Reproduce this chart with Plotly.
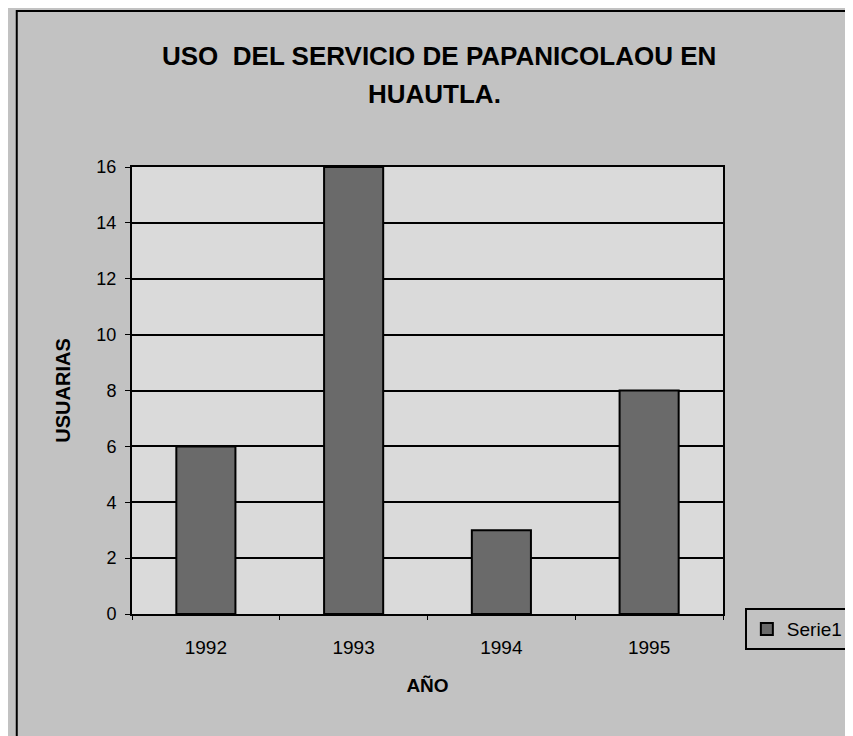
import plotly.graph_objects as go

years = ["1992", "1993", "1994", "1995"]
usuarias = [6, 16, 3, 8]
y_ticks = [0, 2, 4, 6, 8, 10, 12, 14, 16]
title_lines = ["USO  DEL SERVICIO DE PAPANICOLAOU EN", "HUAUTLA."]

fig = go.Figure()
fig.add_trace(go.Bar(
    x=years, y=usuarias, name="Serie1",
    marker=dict(color="#6a6a6a", line=dict(color="black", width=2)),
    showlegend=True,
))

fig.update_layout(
    width=853, height=736,
    paper_bgcolor="#c2c2c2",
    plot_bgcolor="#dadada",
    margin=dict(l=124, r=135, t=159, b=130),
    bargap=0.6,
    font=dict(family="Liberation Sans, Arial, sans-serif", color="black", size=18),
    xaxis=dict(
        title=dict(text="<b>AÑO</b>", font=dict(size=19), standoff=22),
        showline=True, linecolor="black", linewidth=2, mirror=True,
        ticks="outside", tickson="boundaries", ticklen=4, tickcolor="black",
        tickfont=dict(size=19), ticklabelstandoff=15,
        showgrid=False,
    ),
    yaxis=dict(
        title=dict(text="<b>USUARIAS</b>", font=dict(size=20), standoff=20),
        range=[0, 16], tickvals=y_ticks,
        showline=True, linecolor="black", linewidth=2, mirror=True,
        ticks="outside", ticklen=5, tickcolor="black",
        showgrid=True, gridcolor="black", gridwidth=1.5,
        tickfont=dict(size=18), ticklabelstandoff=5,
        zeroline=False,
    ),
    legend=dict(
        x=1.037, xanchor="left", y=0.013, yanchor="top",
        bgcolor="#c2c2c2", bordercolor="black", borderwidth=2,
        font=dict(size=19), itemwidth=30,
    ),
    annotations=[
        dict(text="<b>" + title_lines[0] + "</b>", xref="paper", yref="paper",
             x=0.519, y=1.249, xanchor="center", yanchor="middle",
             showarrow=False, font=dict(size=26)),
        dict(text="<b>" + title_lines[1] + "</b>", xref="paper", yref="paper",
             x=0.512, y=1.163, xanchor="center", yanchor="middle",
             showarrow=False, font=dict(size=26)),
    ],
    shapes=[dict(
        type="rect", xref="paper", yref="paper",
        x0=-0.195, x1=1.30, y0=-0.40, y1=1.349,
        line=dict(color="black", width=2), fillcolor="rgba(0,0,0,0)",
        layer="below",
    )],
)

fig.write_html("out.html")
